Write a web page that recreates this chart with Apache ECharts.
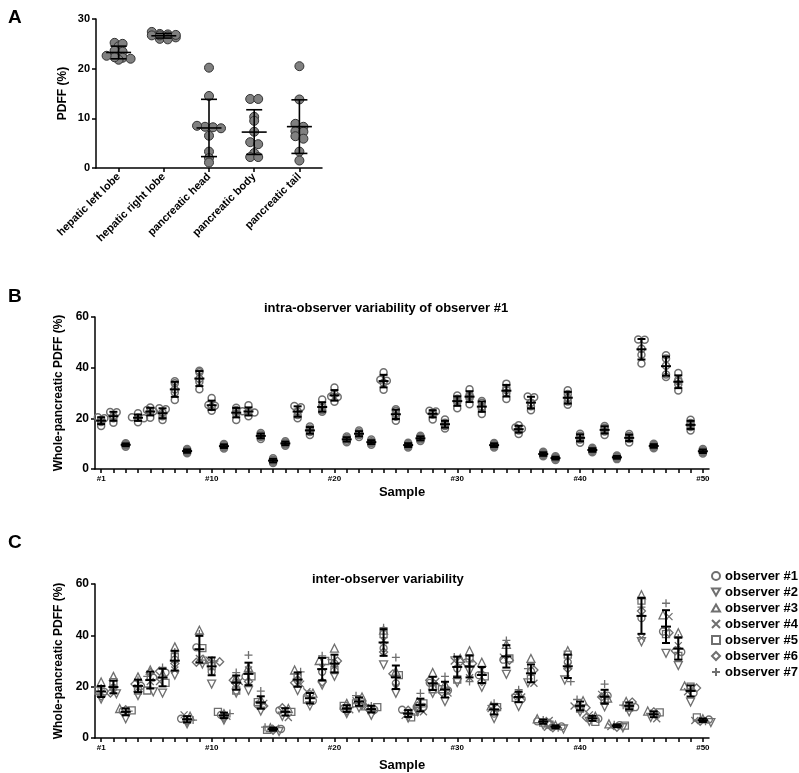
<!DOCTYPE html>
<html><head><meta charset="utf-8">
<script src="https://cdn.jsdelivr.net/npm/echarts@6/dist/echarts.min.js"></script>
<style>html,body{margin:0;padding:0;background:#fff}#c{width:799px;height:773px}</style>
</head><body><div id="c"></div>
<script>
// ---------- Panel A data ----------
const regionCategories = ['hepatic left lobe','hepatic right lobe','pancreatic head','pancreatic body','pancreatic tail'];
const hepaticLeftLobe  = [25.2, 24.5, 25.0, 23.6, 23.4, 22.2, 22.0, 21.8, 22.3, 22.6];
const hepaticRightLobe = [27.4, 27.0, 26.9, 26.7, 26.5, 26.3, 26.0, 25.9, 26.8, 26.7];
const pancreaticHead   = [20.2, 14.5, 8.3, 8.5, 8.2, 6.5, 3.3, 2.0, 1.1, 8.0];
const pancreaticBody   = [13.9, 13.9, 10.3, 9.5, 7.3, 5.2, 4.8, 3.0, 2.2, 2.2];
const pancreaticTail   = [20.5, 13.8, 8.9, 8.3, 7.4, 7.3, 6.4, 5.9, 3.3, 1.5];
const yTicksA = [0, 10, 20, 30];

// ---------- Panel B data (observer #1, 5 repeated measurements per sample) ----------
const sampleLabels = ['#1','#2','#3','#4','#5','#6','#7','#8','#9','#10','#11','#12','#13','#14','#15','#16','#17','#18','#19','#20','#21','#22','#23','#24','#25','#26','#27','#28','#29','#30','#31','#32','#33','#34','#35','#36','#37','#38','#39','#40','#41','#42','#43','#44','#45','#46','#47','#48','#49','#50'];
const intraObserver1 = [
 [20.4,20.0,19.4,18.6,17.0],[22.5,22.4,20.9,20.0,18.3],[10.2,9.9,9.6,9.3,8.8],[20.4,22.0,18.5,20.0,20.3],[24.3,22.7,20.2,23.3,22.8],
 [24.0,23.6,22.3,20.8,19.3],[34.6,33.8,31.4,30.2,27.2],[7.9,7.5,7.1,6.7,6.2],[38.8,38.2,35.6,34.4,31.5],[28.0,25.3,25.0,24.5,23.0],
 [9.9,9.5,9.0,8.6,8.1],[24.2,23.3,22.6,21.8,19.3],[25.2,22.8,22.5,22.3,20.8],[14.2,13.6,13.1,12.6,11.8],[4.2,3.7,3.3,2.9,2.4],
 [11.0,10.5,10.1,9.7,9.2],[24.9,24.4,22.8,21.3,20.0],[16.8,16.0,15.4,14.6,13.4],[27.4,25.0,24.2,23.2,22.6],[32.2,29.6,28.6,28.4,26.5],
 [12.8,12.2,11.7,11.2,10.6],[15.2,14.5,13.9,13.4,12.6],[11.6,11.0,10.6,10.2,9.6],[38.2,35.2,34.8,34.0,31.3],[23.6,23.0,21.8,20.6,19.0],
 [10.4,9.9,9.4,9.0,8.5],[13.1,12.6,12.1,11.6,11.1],[23.0,22.7,22.3,21.5,19.5],[19.5,18.3,17.6,17.0,16.0],[29.0,27.7,27.0,26.3,24.0],
 [31.5,29.2,28.6,27.9,25.6],[26.8,26.2,24.6,23.8,21.7],[10.3,9.9,9.4,9.0,8.5],[33.7,32.0,31.2,30.0,27.6],[17.3,16.4,15.9,15.2,13.8],
 [28.6,28.3,26.2,24.8,23.2],[6.8,6.3,5.9,5.5,5.0],[5.0,4.6,4.3,4.0,3.6],[31.1,29.6,28.0,26.6,25.4],[13.9,13.1,12.5,11.6,10.4],
 [8.4,7.9,7.5,7.1,6.6],[17.0,16.3,15.7,14.8,13.4],[5.3,4.9,4.6,4.3,3.9],[13.8,13.0,12.4,11.8,10.5],[51.1,51.0,47.5,45.1,41.6],
 [10.0,9.5,9.1,8.7,8.2],[44.9,43.6,40.8,37.3,36.3],[37.9,35.2,34.6,33.5,31.0],[19.4,18.2,17.6,16.6,15.2],[7.9,7.4,7.0,6.6,6.1]
];
const yTicksBC = [0, 20, 40, 60];

// ---------- Panel C data (7 observers) ----------
const observerNames = ['observer #1','observer #2','observer #3','observer #4','observer #5','observer #6','observer #7'];
const observer1 = [18.0,19.5,10.5,20.3,23.5,25.5,30.5,7.5,35.3,25.8,9.0,21.5,24.0,13.0,3.5,10.8,22.5,14.5,25.8,29.0,11.5,14.0,11.0,35.0,21.3,11.0,12.1,21.5,18.5,27.1,29.5,24.5,9.5,30.5,15.2,26.0,6.5,4.5,29.5,12.0,7.5,16.5,5.0,12.0,46.7,9.0,41.5,33.5,17.5,7.2];
const observer2 = [15.2,17.2,7.5,16.5,18.0,17.5,24.5,5.5,28.8,21.0,7.0,17.5,18.5,10.5,2.5,8.5,18.5,12.5,20.6,24.0,9.5,11.8,8.8,28.5,17.4,7.8,10.3,17.4,14.2,21.6,26.0,19.8,7.6,24.8,12.3,21.5,5.0,3.5,22.6,10.2,6.5,12.2,4.0,10.2,37.5,8.0,33.0,28.2,14.0,6.0];
const observer3 = [21.8,24.0,11.5,23.8,26.5,25.0,35.5,8.5,42.0,30.5,9.5,23.5,27.5,15.0,4.0,11.5,26.5,17.5,30.2,35.0,13.5,16.0,12.5,42.0,26.0,10.5,14.0,25.5,21.0,31.0,34.0,29.5,12.5,36.5,17.5,31.0,7.5,5.0,34.0,14.5,8.5,15.5,5.5,14.2,55.8,10.5,48.0,41.0,20.3,7.5];
const observer4 = [17.5,18.5,9.5,19.5,22.0,22.0,26.5,9.0,31.0,30.4,8.5,22.0,26.5,13.5,3.8,8.0,21.0,18.0,27.5,28.0,11.0,14.5,10.5,38.0,20.0,8.8,10.2,22.0,17.5,30.0,23.5,26.5,11.5,31.5,16.0,21.3,6.8,4.2,28.0,12.5,9.0,17.0,4.5,12.5,39.0,7.5,47.3,36.0,18.0,6.8];
const observer5 = [18.5,21.8,10.8,18.5,18.5,21.5,31.5,7.2,35.0,28.0,10.2,18.5,24.0,14.0,3.2,10.2,23.5,15.0,30.0,26.5,12.5,13.5,12.0,40.5,24.5,8.0,13.5,19.0,19.0,22.8,31.0,24.0,12.0,31.0,15.6,23.0,6.0,5.2,32.5,11.5,6.3,14.5,4.8,11.8,53.5,10.0,40.5,32.0,20.0,8.0];
const observer6 = [16.3,17.5,11.0,21.0,25.5,26.0,29.0,6.5,29.5,29.7,8.0,22.5,22.0,12.5,3.0,11.8,21.5,17.0,21.8,30.0,10.5,13.0,11.5,33.5,25.0,10.8,12.5,22.5,17.8,29.7,29.0,22.0,11.5,30.3,16.5,26.5,5.8,4.0,27.0,11.8,8.0,16.0,4.2,14.0,49.5,10.2,41.0,34.0,19.5,6.5];
const observer7 = [19.5,20.5,10.5,22.5,24.0,27.5,33.5,7.0,40.5,30.0,9.5,25.5,32.3,18.3,4.2,10.5,25.8,14.0,32.0,30.5,11.8,16.5,12.5,43.0,31.4,9.8,17.4,21.0,24.0,31.6,22.0,25.5,13.5,38.0,18.8,27.0,7.0,4.0,22.0,15.0,7.8,21.0,5.2,12.8,51.0,9.5,52.5,39.0,19.0,6.5];

// ---------- helpers ----------
const FONT = '"Liberation Sans", Arial, Helvetica, sans-serif';
const GREY = '#6f6f6f';
function meanSd(a){const n=a.length;const m=a.reduce((s,v)=>s+v,0)/n;const v=a.reduce((s,x)=>s+(x-m)*(x-m),0)/(n-1);return [m,Math.sqrt(v)];}
// GraphPad-like scatter: points at (almost) equal height are placed side by side
function swarm(values, pxPerUnit, thr, step, stackRange, maxOff){
  const px=values.map(v=>v*pxPerUnit);
  const offs=new Array(values.length).fill(0);
  if(Math.max(...px)-Math.min(...px)<stackRange) return offs;
  const order=values.map((v,i)=>i).sort((a,b)=>px[b]-px[a]);
  let row=[];
  const flush=()=>{
    const st=row.length>1?Math.min(step,2*maxOff/(row.length-1)):step;
    row.forEach((idx,j)=>{offs[idx]=(j-(row.length-1)/2)*st;});row=[];};
  for(const i of order){
    if(row.length && Math.abs(px[row[0]]-px[i])>=thr) flush();
    row.push(i);
  }
  flush();
  return offs;
}
function errorBarSeries(xIdx,yIdx,data,meanW,capW,lw){
  return {type:'custom',xAxisIndex:xIdx,yAxisIndex:yIdx,z:5,silent:true,data:data,
    renderItem:function(params,api){
      const x=api.value(0),m=api.value(1),s=api.value(2);
      const pm=api.coord([x,m]),pt=api.coord([x,m+s]),pb=api.coord([x,m-s]);
      const st={stroke:'#000',lineWidth:lw};
      return {type:'group',children:[
        {type:'line',shape:{x1:pm[0],y1:pt[1],x2:pm[0],y2:pb[1]},style:st},
        {type:'line',shape:{x1:pm[0]-capW/2,y1:pt[1],x2:pm[0]+capW/2,y2:pt[1]},style:st},
        {type:'line',shape:{x1:pm[0]-capW/2,y1:pb[1],x2:pm[0]+capW/2,y2:pb[1]},style:st},
        {type:'line',shape:{x1:pm[0]-meanW/2,y1:pm[1],x2:pm[0]+meanW/2,y2:pm[1]},style:st}
      ]};
    }};
}

// ---------- layout ----------
const gA={left:96,top:19,width:226,height:149};
const gB={left:95,top:317,width:614,height:152};
const gC={left:95,top:584,width:614,height:154};

const series=[];
// Panel A
const panelA=[hepaticLeftLobe,hepaticRightLobe,pancreaticHead,pancreaticBody,pancreaticTail];
const aPts=[],aBars=[];
panelA.forEach((vals,ci)=>{
  const off=swarm(vals,gA.height/30,3,8,0,14);
  vals.forEach((v,k)=>aPts.push({value:[ci,v],symbolOffset:[off[k],0]}));
  const [m,s]=meanSd(vals);aBars.push([ci,m,s]);
});
series.push({type:'scatter',xAxisIndex:0,yAxisIndex:0,symbol:'circle',symbolSize:9,data:aPts,z:3,
  itemStyle:{color:'#808080',borderColor:'#333',borderWidth:1,opacity:1}});
series.push(errorBarSeries(0,0,aBars,25,16,1.6));

// Panel B
const bPts=[],bBars=[];
intraObserver1.forEach((vals,si)=>{
  const off=swarm(vals,gB.height/60,1.5,6.5,7,6);
  vals.forEach((v,k)=>bPts.push({value:[si,v],symbolOffset:[off[k],0]}));
  const [m,s]=meanSd(vals);bBars.push([si,m,s]);
});
series.push({type:'scatter',xAxisIndex:1,yAxisIndex:1,symbol:'circle',symbolSize:7,data:bPts,z:3,
  itemStyle:{color:'rgba(255,255,255,0)',borderColor:GREY,borderWidth:1.5,opacity:1}});
series.push(errorBarSeries(1,1,bBars,10,8,2));

// Panel C
const observers=[observer1,observer2,observer3,observer4,observer5,observer6,observer7];
const symbols=['circle','path://M0,0L10,0L5,8.66Z','path://M5,0L10,8.66L0,8.66Z','path://M0,0L10,10M10,0L0,10','rect','path://M5,0L10,5L5,10L0,5Z','path://M5,0L5,10M0,5L10,5'];
const sizes=[7,8,8,7,7,8,8];
const cOff=observers.map(()=>[]);
const cBars=[];
for(let si=0;si<sampleLabels.length;si++){
  const vals=observers.map(o=>o[si]);
  const off=swarm(vals,gC.height/60,2.2,6,0,8);
  off.forEach((o,k)=>cOff[k].push(o));
  const [m,s]=meanSd(vals);cBars.push([si,m,s]);
}
observers.forEach((obs,k)=>{
  series.push({type:'scatter',name:observerNames[k],xAxisIndex:2,yAxisIndex:2,symbol:symbols[k],symbolSize:sizes[k],z:3,
    data:obs.map((v,si)=>({value:[si,v],symbolOffset:[cOff[k][si],0]})),
    itemStyle:{color:'rgba(255,255,255,0)',borderColor:GREY,borderWidth:1.3,opacity:1}});
});
series.push(errorBarSeries(2,2,cBars,10,8,2));

const axisLineStyle={lineStyle:{color:'#000',width:1.5}};
const tickStyle={show:true,length:4,lineStyle:{color:'#000',width:1.5}};
function sampleXAxis(gi,gap){
  return {gridIndex:gi,type:'category',data:sampleLabels,boundaryGap:true,
    axisLine:axisLineStyle,axisTick:{show:true,alignWithLabel:true,interval:0,length:4,lineStyle:{color:'#000',width:1.5}},
    axisLabel:{interval:(i)=>i===0||(i+1)%10===0,fontFamily:FONT,fontWeight:'bold',fontSize:8,color:'#000',margin:6},
    name:'Sample',nameLocation:'middle',nameGap:gap,nameTextStyle:{fontFamily:FONT,fontWeight:'bold',fontSize:13,color:'#000'},
    splitLine:{show:false}};
}
function valYAxis(gi,max,interval,fs,name,gap){
  return {gridIndex:gi,type:'value',min:0,max:max,interval:interval,
    axisLine:{show:true,lineStyle:{color:'#000',width:1.5}},axisTick:tickStyle,splitLine:{show:false},
    axisLabel:{fontFamily:FONT,fontWeight:'bold',fontSize:fs,color:'#000',margin:6},
    name:name,nameLocation:'middle',nameGap:gap,nameRotate:90,nameTextStyle:{fontFamily:FONT,fontWeight:'bold',fontSize:12,color:'#000'}};
}

const option={
  animation:false,
  textStyle:{fontFamily:FONT},
  title:[
    {text:'A',left:3,top:3,textStyle:{fontFamily:FONT,fontWeight:'bold',fontSize:19,color:'#000'}},
    {text:'B',left:3,top:282,textStyle:{fontFamily:FONT,fontWeight:'bold',fontSize:19,color:'#000'}},
    {text:'C',left:3,top:528,textStyle:{fontFamily:FONT,fontWeight:'bold',fontSize:19,color:'#000'}},
    {text:'intra-observer variability of observer #1',left:259,top:297,textStyle:{fontFamily:FONT,fontWeight:'bold',fontSize:13,color:'#000'}},
    {text:'inter-observer variability',left:307,top:568,textStyle:{fontFamily:FONT,fontWeight:'bold',fontSize:13,color:'#000'}}
  ],
  legend:{data:observerNames,orient:'vertical',left:711,top:569,itemWidth:8,itemHeight:8,itemGap:2,
    textStyle:{fontFamily:FONT,fontWeight:'bold',fontSize:13,color:'#000',lineHeight:14},padding:0},
  grid:[gA,gB,gC],
  xAxis:[
    {gridIndex:0,type:'category',data:regionCategories,boundaryGap:true,
     axisLine:axisLineStyle,axisTick:{show:true,alignWithLabel:true,interval:0,length:4,lineStyle:{color:'#000',width:1.5}},
     axisLabel:{interval:0,rotate:45,fontFamily:FONT,fontWeight:'bold',fontSize:11,color:'#000',margin:7},splitLine:{show:false}},
    sampleXAxis(1,17),sampleXAxis(2,21)
  ],
  yAxis:[
    valYAxis(0,30,10,11,'PDFF (%)',27),
    valYAxis(1,60,20,12,'Whole-pancreatic PDFF (%)',26),
    valYAxis(2,60,20,12,'Whole-pancreatic PDFF (%)',26)
  ],
  series:series
};
const chart=echarts.init(document.getElementById('c'),null,{renderer:'canvas'});
chart.setOption(option);
</script></body></html>
